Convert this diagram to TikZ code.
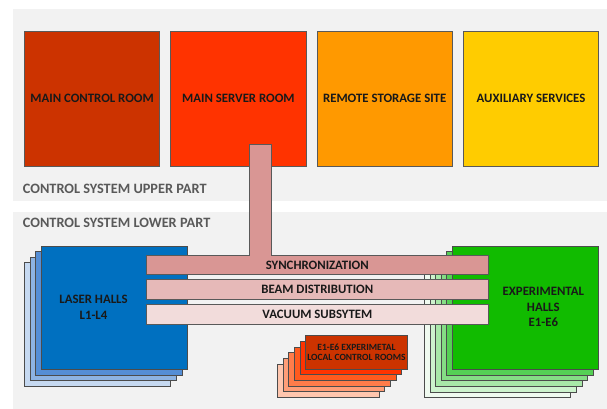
\documentclass[tikz,border=0pt]{standalone}
\usepackage{fontspec}
\setmainfont{Carlito}
\usetikzlibrary{positioning}
\definecolor{panelgray}{HTML}{F2F2F2}
\definecolor{labelgray}{HTML}{595959}
\definecolor{roomA}{HTML}{CC3300}
\definecolor{roomB}{HTML}{FF3300}
\definecolor{roomC}{HTML}{FF9900}
\definecolor{roomD}{HTML}{FFCC00}
\definecolor{blueA}{HTML}{0070C0}
\definecolor{blueB}{HTML}{558ED5}
\definecolor{blueC}{HTML}{8DB3E2}
\definecolor{blueD}{HTML}{C6D9F1}
\definecolor{greenA}{HTML}{11BB00}
\definecolor{greenB}{HTML}{55D055}
\definecolor{greenC}{HTML}{85DD85}
\definecolor{greenD}{HTML}{A8E8A8}
\definecolor{greenE}{HTML}{CDF2CD}
\definecolor{greenF}{HTML}{F0FAF0}
\definecolor{localA}{HTML}{CC3300}
\definecolor{localB}{HTML}{FF3300}
\definecolor{localC}{HTML}{FF5A1E}
\definecolor{localD}{HTML}{FF7C4A}
\definecolor{localE}{HTML}{FF9E78}
\definecolor{localF}{HTML}{FFC6AE}
\definecolor{syncpink}{HTML}{D99694}
\definecolor{beampink}{HTML}{E6B9B8}
\definecolor{vacpink}{HTML}{F2DCDB}
\tikzset{
  every picture/.style={line join=miter, x=1pt, y=-1pt},
  panel/.style={fill=panelgray, draw=none},
  caps/.style={font=\bfseries\fontsize{12.8}{15.5}\selectfont, text=black!90, align=center},
  room/.style={caps, draw=black!65, line width=0.8pt, minimum width=135.5pt, minimum height=134.5pt, inner sep=0pt},
  hall/.style={draw=black!70, line width=0.8pt, minimum width=146.4pt, minimum height=123.3pt, inner sep=0pt},
  localroom/.style={draw=black!70, line width=0.8pt, minimum width=101.6pt, minimum height=33.3pt, inner sep=0pt},
  bar/.style={caps, draw=black!65, line width=0.8pt, minimum width=342pt, minimum height=20pt, inner sep=0pt},
  partlabel/.style={anchor=west, inner sep=0pt, text=labelgray, font=\bfseries\fontsize{14.3}{16}\selectfont},
}
\begin{document}
\begin{tikzpicture}
\useasboundingbox (0,0) rectangle (607,409);
% the two parts of the control system
\fill[panel] (12.7,9) rectangle (607,200.7);
\fill[panel] (12.7,211.7) rectangle (607,409);
\node[partlabel] (upper) at (22.7,188.5) {CONTROL SYSTEM UPPER PART};
\node[partlabel] (lower) at (22.7,222.5) {CONTROL SYSTEM LOWER PART};
% upper part
\node[room, fill=roomA] (control) at (92.1,98.8) {MAIN CONTROL ROOM};
\node[room, fill=roomB] (server) at (238.4,98.8) {MAIN SERVER ROOM};
\node[room, fill=roomC] (storage) at (384.7,98.8) {REMOTE STORAGE SITE};
\node[room, fill=roomD] (auxiliary) at (531,98.8) {AUXILIARY SERVICES};
% laser halls
\foreach \k/\c in {3/blueD,2/blueC,1/blueB}
  \node[hall, fill=\c] (laser\k) at (114.5-5.7*\k,307.7+5.6*\k) {};
\node[hall, fill=blueA] (laser) at (114.5,307.7) {};
\node[caps] (laserlabel) at (93.5,307.2) {LASER HALLS\\L1-L4};
% experimental halls
\foreach \k/\c in {5/greenF,4/greenE,3/greenD,2/greenC,1/greenB}
  \node[hall, fill=\c] (exp\k) at (525.5-5.6*\k,307.7+5.7*\k) {};
\node[hall, fill=greenA] (exp) at (525.5,307.7) {};
\node[caps] (explabel) at (543.3,307.3) {EXPERIMENTAL\\HALLS\\E1-E6};
% local control rooms
\foreach \k/\c in {5/localF,4/localE,3/localD,2/localC,1/localB}
  \node[localroom, fill=\c] (local\k) at (356.5-5.65*\k,352.3+5.7*\k) {};
\node[localroom, fill=localA, font=\bfseries\fontsize{9.5}{10.6}\selectfont, text=black!90, align=center] (local) at (356.5,352.3) {E1-E6 EXPERIMETAL\\LOCAL CONTROL ROOMS};
% subsystems
\filldraw[fill=syncpink, draw=black!65, line width=0.8pt]
  (249.3,144.3) -- (271.7,144.3) -- (271.7,255) -- (488.3,255) -- (488.3,274.7)
  -- (146.3,274.7) -- (146.3,255) -- (249.3,255) -- cycle;
\node[caps] (sync) at (317.3,265) {SYNCHRONIZATION};
\node[bar, fill=beampink] (beam) at (317.3,289.3) {BEAM DISTRIBUTION};
\node[bar, fill=vacpink] (vacuum) at (317.3,314.8) {VACUUM SUBSYTEM};
\end{tikzpicture}
\end{document}
